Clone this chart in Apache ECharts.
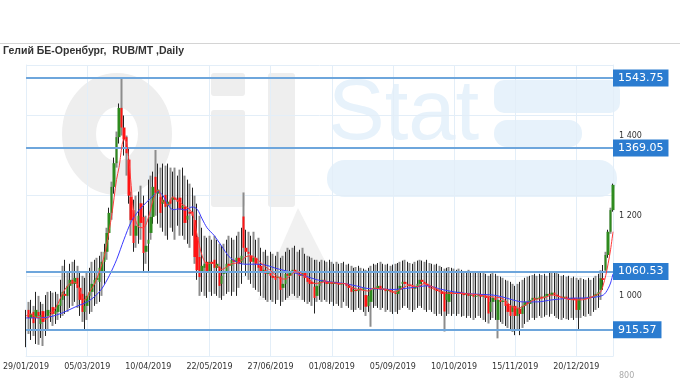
<!DOCTYPE html>
<html><head><meta charset="utf-8">
<script src="https://cdn.jsdelivr.net/npm/echarts@6/dist/echarts.min.js"></script>
<style>html,body{margin:0;padding:0;background:#fff}#c{width:680px;height:380px}</style>
</head><body><div id="c"></div>
<script>
// ---- Calendar (trading days, Russian exchange) ----
const holidays = ['08/03/2019','01/05/2019','02/05/2019','03/05/2019','09/05/2019','10/05/2019','12/06/2019','04/11/2019',
  '01/01/2020','02/01/2020','03/01/2020','06/01/2020','07/01/2020','08/01/2020'];
const dayCount = 241;
function buildDates() {
  const out = [];
  let d = new Date(Date.UTC(2019, 0, 29));
  const pad = n => (n < 10 ? '0' : '') + n;
  while (out.length < dayCount) {
    const wd = d.getUTCDay();
    const s = pad(d.getUTCDate()) + '/' + pad(d.getUTCMonth() + 1) + '/' + d.getUTCFullYear();
    if (wd !== 0 && wd !== 6 && holidays.indexOf(s) < 0) out.push(s);
    d = new Date(d.getTime() + 86400000);
  }
  return out;
}
const categories = buildDates();

// ---- OHLC values ----
const opens = [
 963,965,945,960,945,960,930,962,945,950,960,972,955,960,975,
 990,1005,1000,1025,1040,1030,1045,1020,1005,960,
 975,1000,1010,1030,1040,1035,1060,1085,
 1110,1157,1207,1272,1331,1396,1469,1420,
 1396,1340,1247,1214,1150,1175,1231,1197,1110,1130,
 1157,1197,1297,1255,1247,1230,1252,1225,1240,1240,
 1245,1240,1245,1220,1222,1190,1210,1210,1189,1147,
 1097,1060,1070,1085,1060,1085,1090,1070,1073,1030,
 1055,1060,1080,1075,1090,1085,1095,1085,1198,1120,
 1110,1100,1085,1095,1080,1075,1060,1065,1055,1060,
 1050,1048,1045,1048,1020,1030,1055,1050,1060,1065,
 1060,1055,1050,1060,1045,1040,1035,1023,1000,1025,
 1035,1040,1035,1030,1035,1030,1035,1030,1028,1032,
 1030,1025,1020,1012,1015,1012,1018,1015,1002,975,
 985,1015,1020,1018,1025,1015,1018,1012,1015,1010,
 1008,1005,1015,1030,1035,1030,1028,1025,1018,1022,
 1030,1040,1035,1030,1025,1020,1018,1015,1012,1010,
 1010,990,985,1010,1005,1008,1005,1010,1005,1002,
 1005,1000,1002,998,1000,1003,998,1000,998,960,
 985,995,940,990,985,988,980,975,960,975,
 950,968,955,975,985,980,990,995,992,995,
 998,995,1000,1005,1002,1008,1003,1000,998,995,
 998,994,990,995,994,965,994,992,995,993,
 998,995,1000,1005,1015,1044,1064,1102,1160,1214];
const closes = [
 963,945,955,932,965,950,952,935,948,965,958,955,962,978,990,
 1010,1000,1025,1040,1030,1045,1020,990,960,975,
 1000,1010,1030,1040,1045,1070,1085,1110,
 1157,1207,1272,1331,1396,1469,1420,1390,
 1356,1250,1189,1132,1175,1200,1182,1107,1125,1140,
 1197,1272,1257,1265,1207,1240,1222,1235,1230,1245,
 1240,1235,1215,1225,1182,1200,1205,1200,1097,1064,
 1047,1075,1080,1060,1085,1080,1070,1080,1025,1050,
 1060,1080,1075,1090,1085,1095,1080,1100,1120,1110,
 1105,1085,1095,1080,1070,1060,1065,1055,1060,1050,
 1045,1040,1048,1015,1030,1055,1050,1060,1065,1060,
 1055,1050,1060,1045,1035,1030,1030,995,1025,1035,
 1040,1035,1030,1035,1030,1035,1030,1028,1032,1030,
 1025,1020,1010,1015,1012,1018,1015,1020,973,1000,
 1015,1020,1018,1025,1015,1018,1012,1015,1010,1008,
 1005,1015,1025,1035,1030,1028,1025,1018,1022,1030,
 1040,1035,1030,1025,1020,1018,1015,1012,1010,1005,
 961,1005,1010,1005,1008,1005,1010,1005,1002,1005,
 1000,1002,998,1000,1003,998,1000,995,956,985,
 995,990,990,985,988,975,960,950,975,950,
 970,955,975,985,980,990,995,992,995,998,
 995,1000,1005,1002,1008,1003,1000,998,995,998,
 994,990,995,990,965,994,992,995,993,998,
 995,1000,1005,1010,1044,1040,1102,1160,1214,1277];
const lows = [
 872,905,890,900,880,878,895,875,900,915,935,925,930,940,945,
 950,955,960,970,975,985,970,950,935,915,
 940,955,960,975,980,985,1000,1030,
 1090,1140,1190,1255,1320,1380,1400,1350,
 1300,1230,1150,1110,1120,1130,1140,1057,1080,1060,
 1140,1180,1200,1180,1170,1160,1150,1140,1170,1160,
 1140,1175,1150,1150,1140,1130,1120,1150,1080,1040,
 1000,1010,1000,995,1010,1000,1005,1000,995,990,
 1000,1005,1010,1000,1010,1000,1020,1030,1080,1050,
 1040,1030,1020,1015,1010,1000,995,990,985,990,
 985,980,990,975,985,990,995,1000,1005,1000,
 995,1000,990,985,980,985,975,956,985,990,
 985,990,985,980,985,975,980,975,970,985,
 975,970,965,960,965,970,965,960,950,960,
 923,970,975,970,965,970,960,965,960,955,
 960,955,965,970,975,970,965,960,965,970,
 975,970,965,960,965,960,955,950,955,950,
 911,950,955,950,955,950,955,948,950,945,
 950,945,940,945,950,945,940,935,931,940,
 945,940,894,935,930,925,920,915,910,902,
 915,902,920,930,935,940,945,940,945,950,
 945,948,952,948,955,950,945,942,940,945,
 942,940,945,940,945,915,945,950,948,955,
 950,960,965,970,990,1015,1060,1095,1155,1210];
const highs = [
 965,985,990,975,1010,1000,985,980,1002,1010,1012,1008,1010,1005,1040,
 1075,1090,1060,1080,1085,1090,1075,1060,1050,1045,
 1060,1070,1085,1090,1095,1100,1110,1130,
 1170,1220,1285,1345,1410,1480,1544,1450,
 1400,1371,1260,1240,1250,1260,1275,1250,1200,1290,
 1300,1310,1364,1330,1320,1330,1325,1330,1320,1310,
 1320,1300,1315,1320,1300,1290,1280,1270,1250,1230,
 1200,1170,1150,1145,1150,1140,1150,1140,1130,1125,
 1130,1140,1150,1145,1140,1150,1160,1170,1258,1165,
 1160,1150,1160,1140,1145,1120,1110,1115,1100,1110,
 1105,1100,1110,1095,1100,1110,1120,1115,1120,1125,
 1110,1115,1120,1105,1100,1098,1095,1090,1090,1085,
 1090,1088,1085,1090,1085,1080,1085,1080,1082,1085,
 1078,1080,1075,1070,1072,1075,1070,1068,1065,1070,
 1075,1080,1078,1082,1085,1080,1078,1080,1075,1078,
 1080,1082,1085,1088,1090,1085,1082,1080,1085,1088,
 1090,1088,1085,1090,1082,1080,1078,1080,1075,1072,
 1068,1070,1072,1070,1068,1065,1068,1065,1062,1060,
 1065,1062,1060,1058,1062,1060,1058,1055,1050,1055,
 1058,1055,1050,1048,1045,1040,1038,1035,1030,1025,
 1030,1035,1040,1045,1048,1050,1052,1055,1050,1055,
 1052,1055,1050,1058,1060,1062,1060,1055,1050,1052,
 1048,1050,1045,1048,1045,1040,1045,1042,1040,1045,
 1040,1045,1050,1055,1064,1077,1110,1165,1220,1280];

// ---- Moving-average lines (index, value) ----
const maFastIdx = [0,2,4,6,8,11,13,15,17,19,21,23,24,26,28,30,32,33,35,37,38,40,41,42,43,44,46,48,50,52,54,56,58,60,62,64,66,68,70,72,74,76,78,80,82,84,86,88,90,92,94,96,98,100,102,104,106,108,110,112,114,116,118,120,122,125,128,131,134,137,140,142,145,148,151,154,157,160,163,166,169,172,175,178,181,184,187,190,193,195,197,199,201,203,205,207,209,211,213,215,218,221,224,227,230,233,235,236,237,238,239,240];
const maFastVal = [950,955,947,945,942,960,980,1007,1025,1035,1030,995,990,1010,1030,1060,1100,1130,1200,1290,1320,1390,1385,1340,1275,1210,1172,1170,1195,1240,1264,1234,1227,1247,1238,1228,1220,1207,1150,1100,1080,1082,1075,1066,1072,1080,1082,1088,1098,1100,1094,1083,1072,1063,1052,1043,1042,1050,1060,1058,1050,1040,1031,1032,1035,1033,1031,1030,1019,1015,1012,1019,1018,1015,1010,1020,1027,1023,1031,1023,1014,1007,1006,1006,1005,1003,1001,998,996,993,982,972,969,973,980,988,992,994,998,1002,998,993,990,990,994,1002,1010,1027,1050,1080,1115,1160];
const maSlowIdx = [0,5,10,15,20,25,28,31,34,37,40,43,46,49,52,54,56,58,60,63,65,68,70,72,74,77,80,83,86,89,94,98,102,108,113,119,124,130,135,139,145,150,157,164,170,175,180,185,191,195,199,203,209,215,222,229,234,236,237,238,239,240];
const maSlowVal = [945,945,948,958,972,985,998,1018,1050,1090,1140,1185,1212,1232,1250,1260,1250,1228,1215,1217,1214,1222,1216,1192,1170,1150,1124,1098,1085,1079,1079,1077,1069,1060,1052,1040,1035,1031,1025,1019,1017,1016,1020,1025,1016,1010,1006,1004,1002,997,990,985,985,990,994,995,998,1002,1008,1018,1032,1055];

// ---- Horizontal levels ----
const levels = [1543.75, 1369.05, 1060.53, 915.57];

const blackWick = {color:'#222',color0:'#222',borderColor:'#222',borderColor0:'#222',borderColorDoji:'#222',borderWidth:1};
const grayWick = {color:'#8c8c8c',color0:'#8c8c8c',borderColor:'#8c8c8c',borderColor0:'#8c8c8c',borderColorDoji:'#8c8c8c',borderWidth:2};

const chart = echarts.init(document.getElementById('c'), null, {renderer:'canvas'});
const lightBlue = '#e3eef8';
const wmGray = '#eeeeee', wmBlue = '#e7f2fb';
chart.setOption({
  animation: false,
  backgroundColor: '#fff',
  title: {text: 'Гелий БЕ-Оренбург,  RUB/MT ,Daily', left: 3, top: 46, padding: 0,
    textStyle: {fontSize: 10.5, fontWeight: 'bold', color: '#333', fontFamily: 'Liberation Sans'}},
  graphic: [
    {type:'line', z:-5, silent:true, shape:{x1:0,y1:43.5,x2:680,y2:43.5}, style:{stroke:'#d4d4d4', lineWidth:1}},
    {type:'ellipse', z:-5, silent:true, shape:{cx:117, cy:134, rx:38, ry:44}, style:{fill:'none', stroke:wmGray, lineWidth:34}},
    {type:'rect', z:-5, silent:true, shape:{x:211, y:73, width:34, height:23, r:3}, style:{fill:wmGray}},
    {type:'rect', z:-5, silent:true, shape:{x:211, y:110, width:34, height:97, r:3}, style:{fill:wmGray}},
    {type:'rect', z:-5, silent:true, shape:{x:268, y:73, width:27, height:134, r:3}, style:{fill:wmGray}},
    {type:'polygon', z:-5, silent:true, shape:{points:[[298,208],[258,300],[345,300]]}, style:{fill:'#f1f1f1'}},
    {type:'text', z:-5, silent:true, style:{x:328, y:116, text:'Stat', fill:wmBlue, font:'85px "Liberation Sans"', verticalAlign:'middle'}},
    {type:'rect', z:-5, silent:true, shape:{x:494, y:80, width:126, height:33, r:10}, style:{fill:wmBlue}},
    {type:'rect', z:-5, silent:true, shape:{x:494, y:120, width:88, height:27, r:13}, style:{fill:wmBlue}},
    {type:'rect', z:-5, silent:true, shape:{x:327, y:160, width:290, height:37, r:18}, style:{fill:wmBlue}}
  ],
  grid: [
    {left: 22, right: 67, top: 65, bottom: 24},
    {left: 22, right: 67, top: 65, bottom: 4}
  ],
  xAxis: [
    {type: 'category', gridIndex: 0, data: categories, boundaryGap: false,
     axisLine: {lineStyle: {color: lightBlue}}, axisTick: {show: false},
     axisLabel: {interval: 24, fontSize: 8, color: '#333', margin: 7, fontFamily: 'DejaVu Sans'},
     splitLine: {show: true, interval: 24, lineStyle: {color: lightBlue}}},
    {type: 'value', gridIndex: 1, min: 0, max: 1, show: false}
  ],
  yAxis: [
    {type: 'value', gridIndex: 0, position: 'right', min: 850, max: 1576, interval: 200,
     axisLine: {show: true, lineStyle: {color: lightBlue}}, axisTick: {show: false}, axisLabel: {show: false},
     splitLine: {show: true, lineStyle: {color: lightBlue}}},
    {type: 'value', gridIndex: 0, position: 'left', min: 850, max: 1576,
     axisLine: {show: true, lineStyle: {color: lightBlue}}, axisTick: {show: false}, axisLabel: {show: false},
     splitLine: {show: false}},
    {type: 'value', gridIndex: 1, position: 'right', min: 800, max: 1576, interval: 200,
     axisLine: {show: false}, axisTick: {show: false}, splitLine: {show: false},
     axisLabel: {showMaxLabel: false, fontSize: 8, margin: 6, fontFamily: 'DejaVu Sans',
       color: v => (v <= 800 ? '#aaa' : '#333'),
       formatter: v => v >= 1000 ? Math.floor(v / 1000) + ' ' + String(v % 1000).padStart(3, '0') : String(v)}}
  ],
  series: [
    {type: 'candlestick', name: 'range', xAxisIndex: 0, yAxisIndex: 0, barWidth: 1, silent: true, z: 2,
     data: categories.map((c, i) => ({value: [lows[i], lows[i], lows[i], highs[i]], itemStyle: i % 2 ? grayWick : blackWick}))},
    {type: 'candlestick', name: 'body', xAxisIndex: 0, yAxisIndex: 0, barWidth: 3, silent: true, z: 3,
     itemStyle: {color: '#2e8b1e', color0: '#ff1414', borderColor: '#2e8b1e', borderColor0: '#ff1414', borderColorDoji: '#222', borderWidth: 0},
     data: categories.map((c, i) => [opens[i], closes[i], Math.min(opens[i], closes[i]), Math.max(opens[i], closes[i])]),
     markLine: {silent: true, symbol: ['none', 'none'], animation: false,
       lineStyle: {color: '#6ea6dc', width: 2, type: 'solid'},
       label: {position: 'end', distance: 0, color: '#fff', backgroundColor: '#2b7cd0', padding: [2, 5, 2, 5],
         fontSize: 11, lineHeight: 13, fontFamily: 'DejaVu Sans', formatter: p => Number(p.value).toFixed(2)},
       emphasis: {disabled: true},
       data: levels.map(v => ({yAxis: v}))}},
    {type: 'line', name: 'slow', xAxisIndex: 0, yAxisIndex: 0, z: 4, showSymbol: false, smooth: 0.3, silent: true,
     lineStyle: {color: '#3a3aff', width: 1}, data: maSlowIdx.map((ix, k) => [categories[ix], maSlowVal[k]])},
    {type: 'line', name: 'fast', xAxisIndex: 0, yAxisIndex: 0, z: 5, showSymbol: false, smooth: 0.3, silent: true,
     lineStyle: {color: '#ff3b3b', width: 1}, data: maFastIdx.map((ix, k) => [categories[ix], maFastVal[k]])}
  ]
});
</script></body></html>
